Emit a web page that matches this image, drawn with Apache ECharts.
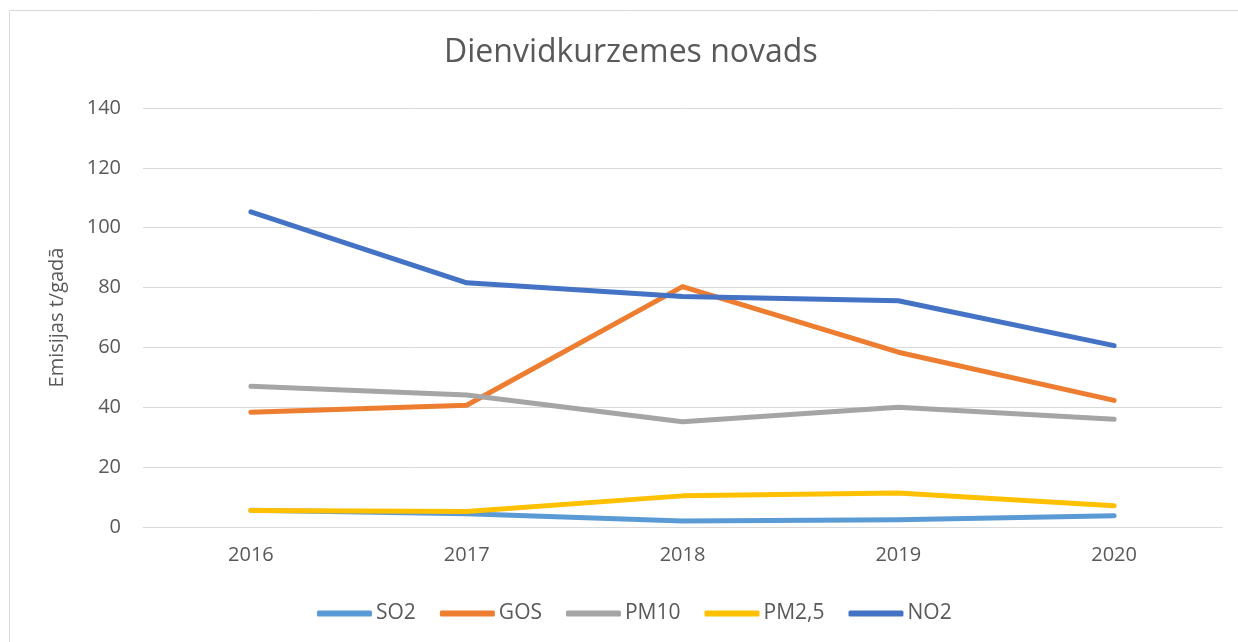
<!DOCTYPE html>
<html>
<head>
<meta charset="utf-8">
<script src="https://cdn.jsdelivr.net/npm/echarts@6/dist/echarts.min.js"></script>
<style>
    html, body { margin: 0; padding: 0; background: #fff; }
    #chart { width: 1238px; height: 642px; }
</style>
</head>
<body>
<div id="chart"></div>
<script>
// dati
var years = ['2016', '2017', '2018', '2019', '2020'];
var so2 = [5.6, 4.4, 2.0, 2.4, 3.8];
var gos = [38.3, 40.7, 80.3, 58.4, 42.3];
var pm10 = [47.0, 44.1, 35.2, 40.0, 36.0];
var pm25 = [5.5, 5.2, 10.4, 11.4, 7.1];
var no2 = [105.3, 81.6, 77.0, 75.6, 60.6];
var yTicks = [0, 20, 40, 60, 80, 100, 120, 140];

var textColor = '#595959',
    gridColor = '#d9d9d9',
    font = '"Open Sans", "Noto Sans", sans-serif';

function lineSeries(name, data, color) {
    return {
        name: name,
        type: 'line',
        data: data,
        symbol: 'none',
        lineStyle: { width: 5, color: color, cap: 'round', join: 'round' },
        itemStyle: { color: color }
    };
}

var myChart = echarts.init(document.getElementById('chart')),
    option = {
        animation: false,
        textStyle: { fontFamily: font },
        graphic: [
            {
                type: 'rect',
                shape: { x: 9.5, y: 10.5, width: 1240, height: 640 },
                style: { fill: 'none', stroke: gridColor, lineWidth: 1 },
                silent: true
            }
        ],
        title: {
            text: 'Dienvidkurzemes novads',
            left: 439,
            top: 32,
            textStyle: { fontSize: 32, fontWeight: 'normal', color: textColor, fontFamily: font }
        },
        legend: {
            data: ['SO2', 'GOS', 'PM10', 'PM2,5', 'NO2'],
            left: 312,
            top: 598,
            icon: 'roundRect',
            itemWidth: 55,
            itemHeight: 6,
            itemGap: 24,
            textStyle: { fontSize: 21, color: textColor, fontFamily: font, padding: [0, 0, 0, -1] }
        },
        grid: {
            left: 143,
            right: 16,
            top: 108,
            bottom: 115
        },
        xAxis: {
            type: 'category',
            data: years,
            boundaryGap: true,
            axisLine: { show: true, lineStyle: { color: gridColor, width: 1 } },
            axisTick: { show: false },
            axisLabel: { color: textColor, fontSize: 20, margin: 18, fontFamily: font }
        },
        yAxis: {
            type: 'value',
            min: yTicks[0],
            max: yTicks[yTicks.length - 1],
            interval: yTicks[1] - yTicks[0],
            name: 'Emisijas t/gadā',
            nameLocation: 'middle',
            nameRotate: 90,
            nameGap: 76,
            nameTextStyle: { color: textColor, fontSize: 20, fontFamily: font },
            axisLine: { show: false },
            axisTick: { show: false },
            axisLabel: { color: textColor, fontSize: 20, margin: 22, fontFamily: font },
            splitLine: { lineStyle: { color: gridColor, width: 1 } }
        },
        series: [
            lineSeries('SO2', so2, '#5b9bd5'),
            lineSeries('GOS', gos, '#ed7d31'),
            lineSeries('PM10', pm10, '#a5a5a5'),
            lineSeries('PM2,5', pm25, '#ffc000'),
            lineSeries('NO2', no2, '#4472c4')
        ]
    };

myChart.setOption(option);
</script>
</body>
</html>
